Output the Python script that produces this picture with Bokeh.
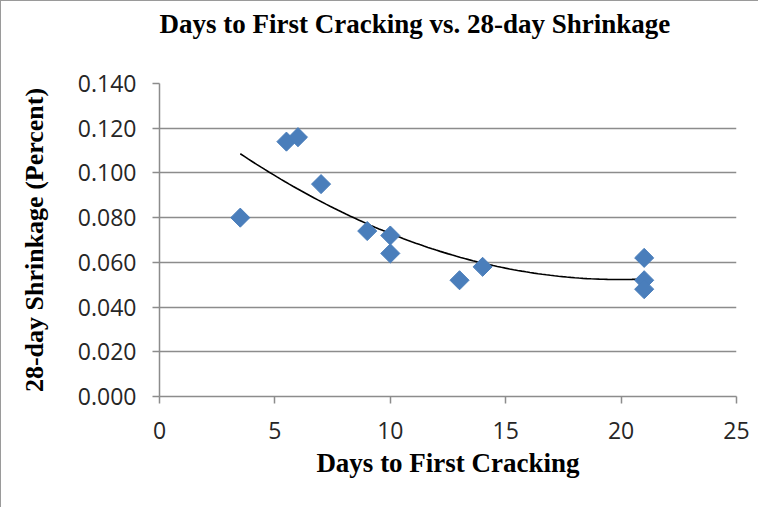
import numpy as np
from bokeh.plotting import figure
from bokeh.models import FixedTicker, NumeralTickFormatter, Range1d, Title
from bokeh.embed import file_html
from bokeh.resources import INLINE

# Data
days_to_cracking = [3.5, 5.5, 6, 7, 9, 10, 10, 13, 14, 21, 21, 21]
shrinkage_28day = [0.080, 0.114, 0.116, 0.095, 0.074, 0.072, 0.064, 0.052, 0.058, 0.062, 0.052, 0.048]
x_ticks = [0, 5, 10, 15, 20, 25]
y_ticks = [0.0, 0.02, 0.04, 0.06, 0.08, 0.10, 0.12, 0.14]
title_text = "Days to First Cracking vs. 28-day Shrinkage"

# Polynomial (order 2) trendline, as in the spreadsheet chart
coef = np.polyfit(days_to_cracking, shrinkage_28day, 2)
trend_x = np.linspace(min(days_to_cracking), max(days_to_cracking), 100)
trend_y = np.polyval(coef, trend_x)

GRID = "#8c8c8c"
SERIF = "Liberation Serif"
SANS = "Open Sans"

p = figure(width=758, height=507, output_backend="svg", toolbar_location=None,
           x_range=Range1d(0, 25), y_range=Range1d(0, 0.14),
           min_border_left=158, min_border_right=23, min_border_top=82, min_border_bottom=112)
p.title = None
p.styles = {"border-left": "1.5px solid #9a9a9a", "border-top": "1.5px solid #9a9a9a"}

# blank (white-on-white) spacer panel between the plot frame and the chart title
p.add_layout(Title(text=" ", text_font_size="27px", text_color="#ffffff", standoff=13), "above")
p.add_layout(Title(text=title_text, text_font=SERIF, text_font_style="bold",
                   text_font_size="27px", text_color="#000000", align="left",
                   standoff=0), "above")

p.outline_line_color = None
p.background_fill_color = "white"
p.border_fill_color = "white"

p.xgrid.grid_line_color = None
p.ygrid.grid_line_color = GRID
p.ygrid.grid_line_width = 1.5
p.ygrid.ticker = FixedTicker(ticks=y_ticks)

p.xaxis.ticker = FixedTicker(ticks=x_ticks)
p.yaxis.ticker = FixedTicker(ticks=y_ticks)
p.yaxis.formatter = NumeralTickFormatter(format="0.000")

for ax in (p.xaxis, p.yaxis):
    ax.axis_line_color = GRID
    ax.axis_line_width = 1.5
    ax.major_tick_line_color = GRID
    ax.major_tick_line_width = 1.5
    ax.major_tick_in = 0
    ax.major_tick_out = 7
    ax.minor_tick_line_color = None
    ax.major_label_text_font = SANS
    ax.major_label_text_font_size = "23px"
    ax.major_label_text_color = "#262626"
    ax.axis_label_text_font = SERIF
    ax.axis_label_text_font_style = "bold"
    ax.axis_label_text_color = "#000000"

p.xaxis.axis_label_text_font_size = "27px"
p.yaxis.axis_label_text_font_size = "26px"
p.xaxis.axis_label = "Days to First Cracking"
p.yaxis.axis_label = "28-day Shrinkage (Percent)"
p.xaxis.major_label_standoff = 18
p.yaxis.major_label_standoff = 16
p.xaxis.axis_label_standoff = 6
p.yaxis.axis_label_standoff = 26

p.line(trend_x, trend_y, line_color="black", line_width=1.6)
p.scatter(days_to_cracking, shrinkage_28day, marker="square", angle=np.pi / 4,
          size=13.5, fill_color="#4a7ebb", line_color="#4a7ebb", line_width=1)

open("out.html", "w").write(file_html(p, INLINE))
